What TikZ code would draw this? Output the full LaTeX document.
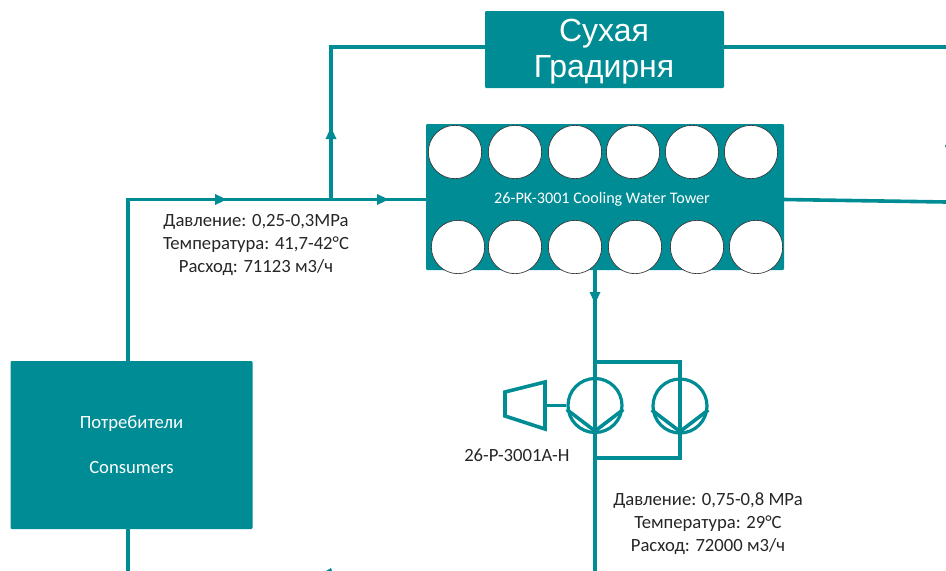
\documentclass[tikz,border=0pt]{standalone}
\usepackage{fontspec}
\setmainfont{Carlito}
\newfontfamily\arialfont{Liberation Sans}
\usetikzlibrary{arrows.meta}
\definecolor{teal1}{HTML}{008C95}
\tikzset{
  x=0.75pt,y=-0.75pt,
  pipe/.style={draw=teal1,line width=2.7pt,line join=miter},
  tip/.style={pipe,-{Triangle[length=9pt,width=7.5pt]}},
  block/.style={draw=none,fill=teal1,rounded corners=0.8pt,inner sep=0pt,text=white,align=center},
  fan/.style={circle,draw=black!80,line width=0.5pt,fill=white,minimum size=40pt,inner sep=0pt},
  pumpc/.style={circle,draw=teal1,line width=2.4pt,fill=none,minimum size=40.5pt,inner sep=0pt},
  lab/.style={align=center,inner sep=0pt,font=\fontsize{14}{17.25}\selectfont,text=black!85},
}
\begin{document}
\begin{tikzpicture}
\useasboundingbox (0,0) rectangle (946,571);
\clip (0,0) rectangle (946,571);
% blocks
\node[block,minimum width=179.25pt,minimum height=57.75pt] (dry) at (604.5,49.5) {};
\node[text=white,align=center,inner sep=0pt,font=\arialfont\fontsize{24}{27}\selectfont] (drylab) at (604,52) {Сухая\\Градирня};
\node[block,minimum width=268.5pt,minimum height=109.5pt] (tower) at (605,197) {};
\node[text=white,inner sep=0pt,font=\fontsize{12.1}{14}\selectfont] (towerlab) at (602,199) {26-PK-3001 Cooling Water Tower};
\node[block,minimum width=181.5pt,minimum height=126pt,font=\fontsize{14}{33.75}\selectfont] (cons) at (131.5,445) {Потребители\\Consumers};
% fans
\foreach \n/\x in {a/455,b/515,c/575,d/633,e/692,f/751}{\node[fan] (t\n) at (\x,152) {};}
\foreach \n/\x in {a/458,b/515,c/575,d/635,e/697,f/756}{\node[fan] (u\n) at (\x,247) {};}
% coordinates
\coordinate (corner) at (128,199.5);
\coordinate (tee) at (331,199.5);
\coordinate (topc) at (331,47);
\coordinate (a1) at (227,199.5);
\coordinate (a2) at (389,199.5);
\coordinate (a3) at (331,127);
\coordinate (a4) at (595,304);
\coordinate (rtop) at (946,47);
\coordinate (rmid) at (946,202);
\coordinate (consb) at (128,571);
\coordinate (cons1) at (128,361);
\coordinate (cons2) at (128,529);
\coordinate (dryl) at (485,47);
\coordinate (dryr) at (724,47);
\coordinate (towl) at (426,199.5);
\coordinate (towr) at (784,199.5);
\coordinate (towb) at (595,270);
\coordinate (main) at (595,571);
\coordinate (bt) at (595,362);
\coordinate (bb) at (595,458);
% pumps
\node[pumpc] (p1) at (595,405.5) {};
\node[pumpc] (p2) at (680,406) {};
\coordinate (p1b) at (595,431);
\coordinate (p2b) at (680,431.5);
\coordinate (t1) at (505,392);
\coordinate (t2) at (545,382);
\coordinate (t3) at (545,429);
\coordinate (t4) at (505,416);
% pipes
\draw[pipe] (cons1) -- (corner) -- (towl);
\draw[tip] (corner) -- (a1);
\draw[tip] (tee) -- (a2);
\draw[pipe] (tee) -- (topc) -- (dryl);
\draw[tip] (tee) -- (a3);
\draw[pipe] (dryr) -- (rtop);
\draw[pipe] (towr) -- (rmid);
\draw[pipe] (cons2) -- (consb);
\draw[pipe] (towb) -- (main);
\draw[tip] (towb) -- (a4);
\draw[pipe] (bt) -| (p2.north) -- (p2b) |- (bb);
% pump details
\draw[pipe] (p1.188) -- (p1b) -- (p1.-8);
\draw[pipe] (p2.188) -- (p2b) -- (p2.-8);
\draw[pipe] (t1) -- (t2) -- (t3) -- (t4) -- cycle;
\draw[pipe] (545,405.5) -- (p1.west);
% cut-off marks at the edges
\fill[teal1] (945,146) -- (946,144) -- (946,148) -- cycle;
\fill[teal1] (326,571) -- (331,568) -- (332,571) -- cycle;
% labels
\node[lab] (l1) at (256,244.5) {Давление: 0,25-0,3MPa\\Температура: 41,7-42°C\\Расход: 71123 м3/ч};
\node[lab] (l2) at (708,523.5) {Давление: 0,75-0,8 MPa\\Температура: 29°C\\Расход: 72000 м3/ч};
\node[lab,anchor=west] (l3) at (464,455) {26-P-3001A-H};
\end{tikzpicture}
\end{document}
